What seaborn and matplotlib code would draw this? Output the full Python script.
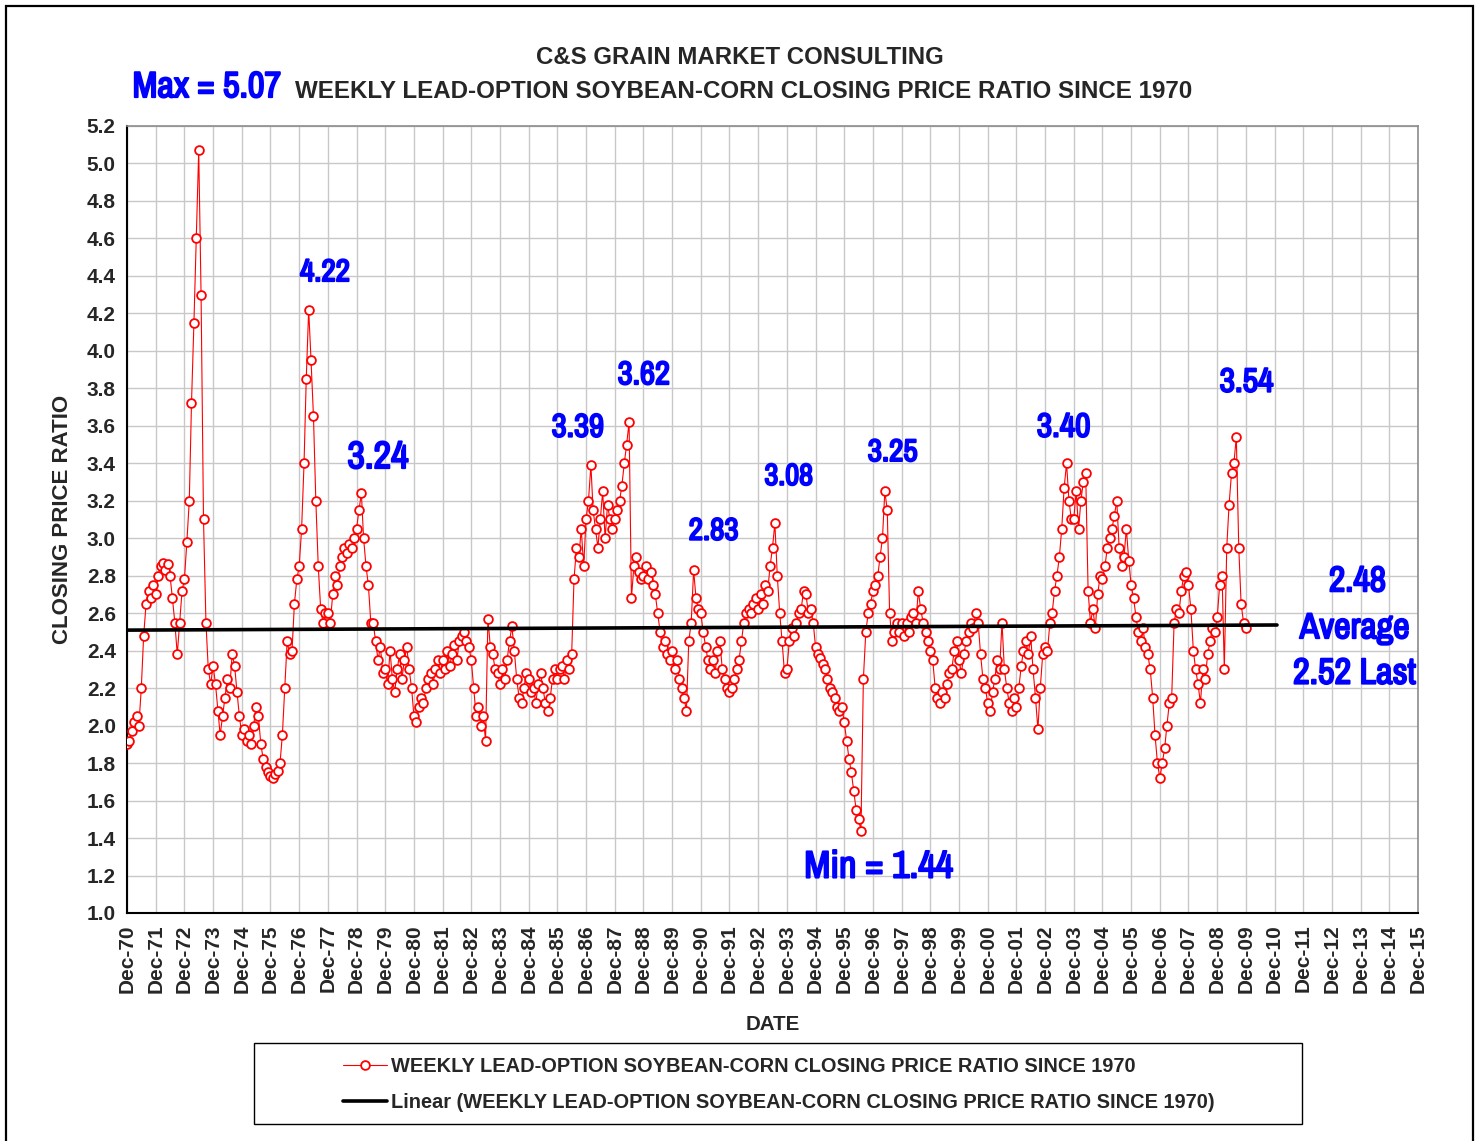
import numpy as np
import pandas as pd
import matplotlib
matplotlib.use('Agg')
import matplotlib.pyplot as plt
import matplotlib.dates as mdates
import matplotlib.patheffects as pe
import seaborn as sns
from matplotlib import font_manager
from matplotlib.patches import Rectangle
from matplotlib.lines import Line2D


# === Data: monthly soybean/corn closing ratio (Dec-70 onward) ===
ratio_1971_80 = [
    1.90, 1.92, 1.97, 2.02, 2.05, 2.00, 2.20, 2.48, 2.65, 2.72, 2.68, 2.75,
    2.70, 2.80, 2.85, 2.87, 2.83, 2.86, 2.80, 2.68, 2.55, 2.38, 2.55, 2.72,
    2.78, 2.98, 3.20, 3.72, 4.15, 4.60, 5.07, 4.30, 3.10, 2.55, 2.30, 2.22,
    2.32, 2.22, 2.08, 1.95, 2.05, 2.15, 2.25, 2.20, 2.38, 2.32, 2.18, 2.05,
    1.95, 1.98, 1.92, 1.95, 1.90, 2.00, 2.10, 2.05, 1.90, 1.82, 1.78, 1.75,
    1.73, 1.72, 1.74, 1.76, 1.80, 1.95, 2.20, 2.45, 2.38, 2.40, 2.65, 2.78,
    2.85, 3.05, 3.40, 3.85, 4.22, 3.95, 3.65, 3.20, 2.85, 2.62, 2.55, 2.60,
    2.60, 2.55, 2.70, 2.80, 2.75, 2.85, 2.90, 2.95, 2.92, 2.97, 2.95, 3.00,
    3.05, 3.15, 3.24, 3.00, 2.85, 2.75, 2.55, 2.55, 2.45, 2.35, 2.42, 2.28,
    2.30, 2.22, 2.40, 2.25, 2.18, 2.30, 2.38, 2.25, 2.35, 2.42, 2.30, 2.20,
]
ratio_1981_90 = [
    2.05, 2.02, 2.10, 2.15, 2.12, 2.20, 2.25, 2.28, 2.22, 2.30, 2.35, 2.28,
    2.35, 2.30, 2.40, 2.32, 2.38, 2.43, 2.35, 2.45, 2.48, 2.50, 2.45, 2.42,
    2.35, 2.20, 2.05, 2.10, 2.00, 2.05, 1.92, 2.57, 2.42, 2.38, 2.30, 2.28,
    2.22, 2.30, 2.25, 2.35, 2.45, 2.53, 2.40, 2.25, 2.15, 2.12, 2.20, 2.28,
    2.25, 2.18, 2.20, 2.12, 2.22, 2.28, 2.20, 2.12, 2.08, 2.15, 2.25, 2.30,
    2.25, 2.30, 2.32, 2.25, 2.35, 2.30, 2.38, 2.78, 2.95, 2.90, 3.05, 2.85,
    3.10, 3.20, 3.39, 3.15, 3.05, 2.95, 3.10, 3.25, 3.00, 3.18, 3.10, 3.05,
    3.10, 3.15, 3.20, 3.28, 3.40, 3.50, 3.62, 2.68, 2.85, 2.90, 2.82, 2.78,
    2.80, 2.85, 2.78, 2.82, 2.75, 2.70, 2.60, 2.50, 2.42, 2.45, 2.38, 2.35,
    2.40, 2.30, 2.35, 2.25, 2.20, 2.15, 2.08, 2.45, 2.55, 2.83, 2.68, 2.62,
]
ratio_1991_00 = [
    2.60, 2.50, 2.42, 2.35, 2.30, 2.35, 2.28, 2.40, 2.45, 2.30, 2.25, 2.20,
    2.18, 2.20, 2.25, 2.30, 2.35, 2.45, 2.55, 2.60, 2.62, 2.60, 2.65, 2.68,
    2.62, 2.70, 2.65, 2.75, 2.72, 2.85, 2.95, 3.08, 2.80, 2.60, 2.45, 2.28,
    2.30, 2.45, 2.52, 2.48, 2.55, 2.60, 2.62, 2.72, 2.70, 2.60, 2.62, 2.55,
    2.42, 2.38, 2.36, 2.33, 2.30, 2.25, 2.20, 2.18, 2.15, 2.10, 2.08, 2.10,
    2.02, 1.92, 1.82, 1.75, 1.65, 1.55, 1.50, 1.44, 2.25, 2.50, 2.60, 2.65,
    2.72, 2.75, 2.80, 2.90, 3.00, 3.25, 3.15, 2.60, 2.45, 2.50, 2.55, 2.50,
    2.55, 2.48, 2.55, 2.50, 2.58, 2.60, 2.55, 2.72, 2.62, 2.55, 2.50, 2.45,
    2.40, 2.35, 2.20, 2.15, 2.12, 2.18, 2.15, 2.22, 2.28, 2.30, 2.40, 2.45,
    2.35, 2.28, 2.38, 2.45, 2.50, 2.55, 2.52, 2.60, 2.55, 2.38, 2.25, 2.20,
]
ratio_2001_09 = [
    2.12, 2.08, 2.18, 2.25, 2.35, 2.30, 2.55, 2.30, 2.20, 2.12, 2.08, 2.15,
    2.10, 2.20, 2.32, 2.40, 2.45, 2.38, 2.48, 2.30, 2.15, 1.98, 2.20, 2.38,
    2.42, 2.40, 2.55, 2.60, 2.72, 2.80, 2.90, 3.05, 3.27, 3.40, 3.20, 3.10,
    3.10, 3.25, 3.05, 3.20, 3.30, 3.35, 2.72, 2.55, 2.62, 2.52, 2.70, 2.80,
    2.78, 2.85, 2.95, 3.00, 3.05, 3.12, 3.20, 2.95, 2.85, 2.90, 3.05, 2.88,
    2.75, 2.68, 2.58, 2.50, 2.45, 2.52, 2.42, 2.38, 2.30, 2.15, 1.95, 1.80,
    1.72, 1.80, 1.88, 2.00, 2.12, 2.15, 2.55, 2.62, 2.60, 2.72, 2.80, 2.82,
    2.75, 2.62, 2.40, 2.30, 2.22, 2.12, 2.30, 2.25, 2.38, 2.45, 2.52, 2.50,
    2.58, 2.75, 2.80, 2.30, 2.95, 3.18, 3.35, 3.40, 3.54, 2.95, 2.65, 2.55, 2.52,
]

# labels written on the chart
note_text = ['Max = 5.07', '4.22', '3.24', '3.39', '3.62', '2.83', '3.08',
             '3.25', '3.40', '3.54', 'Min = 1.44', '2.48', 'Average', '2.52 Last']

series_name = 'WEEKLY LEAD-OPTION SOYBEAN-CORN CLOSING PRICE RATIO SINCE 1970'

ratio = ratio_1971_80 + ratio_1981_90 + ratio_1991_00 + ratio_2001_09
dates = pd.date_range('1970-12-01', periods=len(ratio), freq='MS')
df = pd.DataFrame({'date': dates, 'ratio': ratio})

# linear trend (Excel style, carried ~13 months past the last point)
m = np.arange(len(ratio))
coef = np.polyfit(m, ratio, 1)
m_tr = np.arange(len(ratio) + 13)
trend_df = pd.DataFrame({'date': pd.date_range('1970-12-01', periods=len(m_tr), freq='MS'),
                         'trend': np.polyval(coef, m_tr)})

# === Layout (pixels of a 1479x1141 canvas) ===
W, H = 1479, 1141
note_pos = [('1973-09-15', 5.41), ('1977-10-25', 4.42), ('1979-09-01', 3.43),
            ('1986-08-17', 3.59), ('1988-12-05', 3.87), ('1991-05-14', 3.04),
            ('1993-12-27', 3.33), ('1997-08-09', 3.46), ('2003-07-25', 3.59),
            ('2009-12-08', 3.83), ('1997-02-12', 1.245), ('2013-10-21', 2.77),
            ('2013-09-15', 2.52), ('2013-09-15', 2.28)]
# target width / cap height in pixels, and how far the width may stretch
note_size = [(119, 45, 1.25), (40, 26, 1.25), (49, 30, 1.25), (42, 28, 1.25),
             (42, 28, 1.25), (40, 28, 1.25), (39, 28, 1.25), (40, 28, 1.25),
             (43, 28, 1.25), (43, 34, 1.25), (124, 46, 1.2), (51, 33, 1.12),
             (98, 30, 1.12), (110, 33, 1.12)]

sns.set_theme(style='whitegrid')
plt.rcParams['font.family'] = ['Liberation Sans', 'DejaVu Sans']

fig = plt.figure(figsize=(W / 100, H / 100), dpi=100)
fig.patch.set_facecolor('white')
ax = fig.add_axes([127 / W, 1 - 913 / H, (1418 - 127) / W, (913 - 126) / H])
ax.set_facecolor('white')

sns.lineplot(data=df, x='date', y='ratio', ax=ax, color='red', lw=0.8,
             marker='o', markersize=6.3, markerfacecolor='white',
             markeredgecolor='red', markeredgewidth=1.3, legend=False, zorder=3)
sns.lineplot(data=trend_df, x='date', y='trend', ax=ax, color='black', lw=2.6,
             legend=False, zorder=4)

# axes
years = list(range(1970, 2016))
xt = [mdates.date2num(pd.Timestamp(f'{y}-12-01')) for y in years]
ax.set_xlim(xt[0], xt[-1])
ax.set_xticks(xt)
ax.set_xticklabels([f'Dec-{y % 100:02d}' for y in years], rotation=90,
                   fontsize=15, fontweight='bold')
yt = np.round(np.arange(1.0, 5.21, 0.2), 1)
ax.set_ylim(1.0, 5.2)
ax.set_yticks(yt)
ax.set_yticklabels([f'{v:.1f}' for v in yt], fontsize=15, fontweight='bold')
ax.set_xlabel('')
ax.set_ylabel('')
ax.grid(True, color='#c8c8c8', lw=1.0)
ax.set_axisbelow(True)
ax.tick_params(axis='both', direction='out', length=5, width=1, color='black', pad=3)
for s in ['left', 'bottom']:
    ax.spines[s].set_color('black')
    ax.spines[s].set_linewidth(1.5)
for s in ['top', 'right']:
    ax.spines[s].set_color('#8c8c8c')
    ax.spines[s].set_linewidth(1.2)

# titles and axis labels
fig.text(0.5, 1 - 58 / H, 'C&S GRAIN MARKET CONSULTING', ha='center', va='center',
         fontsize=17.3, fontweight='bold')
fig.text(744 / W, 1 - 91 / H, series_name, ha='center', va='center',
         fontsize=17.4, fontweight='bold')
fig.text(62 / W, 1 - 519 / H, 'CLOSING PRICE RATIO', rotation=90, ha='center',
         va='center', fontsize=16, fontweight='bold')
fig.text(773 / W, 1 - 1024 / H, 'DATE', ha='center', va='center',
         fontsize=14.8, fontweight='bold')

# narrow blue notes
names = sorted({f.name for f in font_manager.fontManager.ttflist})
narrow = 'Liberation Sans'
for key in ['Liberation Sans Narrow', 'Narrow', 'ExtraCondensed', 'Condensed']:
    hits = [n for n in names if key in n]
    if hits:
        narrow = hits[0]
        break

notes = []
for txt, (d, v) in zip(note_text, note_pos):
    t = ax.text(mdates.date2num(pd.Timestamp(d)), v, txt, color='#0000ff',
                fontsize=20, fontweight='bold', family=[narrow, 'DejaVu Sans'],
                ha='center', va='center', clip_on=False, zorder=6,
                path_effects=[pe.withStroke(linewidth=1.4, foreground='#0000ff')])
    notes.append(t)

fig.canvas.draw()
rend = fig.canvas.get_renderer()
for t, (tw, th, k) in zip(notes, note_size):
    bb = t.get_window_extent(rend)
    fs_w = t.get_fontsize() * k * tw / bb.width
    fs_h = th / (0.72 * 100 / 72)
    t.set_fontsize(min(fs_w, fs_h))

# legend
handles = [Line2D([], [], color='red', lw=0.8, marker='o', markersize=6.3,
                  markerfacecolor='white', markeredgecolor='red', markeredgewidth=1.3),
           Line2D([], [], color='black', lw=2.6)]
labels = [series_name, f'Linear ({series_name})']
fig.legend(handles, labels, loc='center', bbox_to_anchor=(779 / W, 1 - 1084 / H),
           frameon=False, prop={'size': 14.4, 'weight': 'bold'},
           handlelength=2.2, handletextpad=0.2, labelspacing=0.85)
fig.add_artist(Rectangle((254 / W, 1 - 1124 / H), (1302 - 254) / W, 81 / H,
                         transform=fig.transFigure, fill=False, ec='black', lw=1.0))

# outer frame
fig.add_artist(Rectangle((6 / W, -0.02), (1473 - 6) / W, 1 - 6 / H + 0.02,
                         transform=fig.transFigure, fill=False, ec='black', lw=1.6))

fig.savefig('out.png', dpi=100)
